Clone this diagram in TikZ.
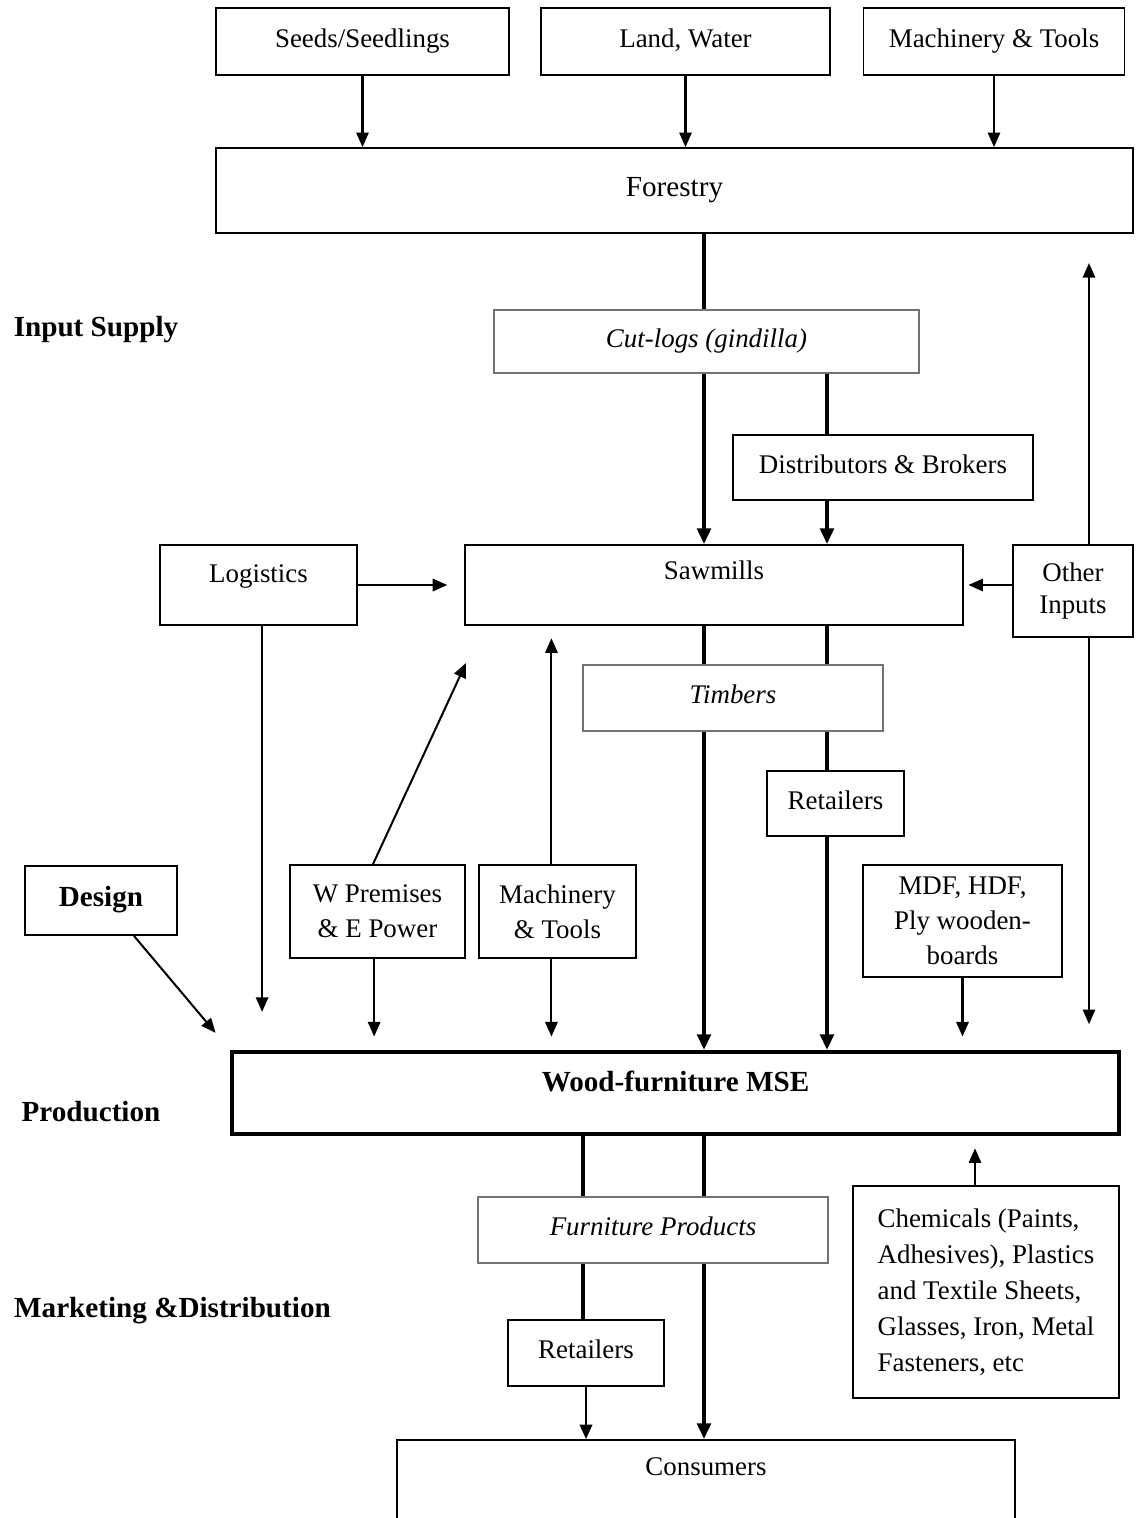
\documentclass[tikz,border=0pt]{standalone}
\usepackage{fontspec}
\setmainfont{Liberation Serif}
\usetikzlibrary{arrows.meta}

\begin{document}
\begin{tikzpicture}[x=0.446pt,y=-0.446pt,
  font=\fontsize{12pt}{15.5pt}\selectfont,
  box/.style={draw,line width=0.8pt,align=center,inner sep=2pt},
  single/.style={box,text height=8.5pt,text depth=3.5pt},
  greybox/.style={single,draw=black!55,line width=0.5pt,font=\fontsize{12pt}{15.5pt}\selectfont\itshape},
  sz/.style 2 args={minimum width=#1*0.446pt,minimum height=#2*0.446pt},
  head/.style={font=\fontsize{13pt}{15pt}\selectfont\bfseries},
  stage/.style={head,text height=9pt,text depth=2.5pt},
  arr/.style={line width=0.9pt,-{Triangle[length=6.5pt,width=5.5pt]}},
  trunkline/.style={line width=2.2pt},
  trunkarr/.style={line width=2.2pt,-{Triangle[length=7pt,width=6pt]}}]
  \useasboundingbox (0,0) rectangle (1143,1518);
  \coordinate (trunk) at (704,0);
  \coordinate (branch) at (827,0);
  \coordinate (rline) at (1089,0);
  \coordinate (lline) at (583,0);
  \coordinate (sawin) at (466,663);

  \node[stage] (inputs) at (96,329) {Input Supply};
  \node[stage] (production) at (91,1114) {Production};
  \node[stage] (marketing) at (172.5,1310) {Marketing \&Distribution};

  \node[single,sz={293}{67}] (seeds) at (362.5,41.5) {Seeds/Seedlings};
  \node[single,sz={289}{67}] (land) at (685.5,41.5) {Land, Water};
  \node[single,sz={261}{67}] (tools) at (994,41.5) {Machinery \& Tools};
  \node[single,sz={917}{85},font=\fontsize{13pt}{15pt}\selectfont] (forestry) at (674.5,190.5) {Forestry};
  \node[greybox,sz={425}{63}] (cutlogs) at (706.5,341.5) {Cut-logs (gindilla)};
  \node[single,sz={300}{65}] (dist) at (883,467.5) {Distributors \& Brokers};
  \node[single,sz={498}{80},text depth=13pt] (sawmills) at (714,585) {Sawmills};
  \node[single,sz={197}{80},text depth=11pt] (logistics) at (258.5,585) {Logistics};
  \node[box,sz={120}{92},font=\fontsize{12pt}{14.3pt}\selectfont] (other) at (1073,591) {Other\\Inputs};
  \node[greybox,sz={300}{66}] (timbers) at (733,698) {Timbers};
  \node[single,sz={137}{65}] (retail) at (835.5,803.5) {Retailers};
  \node[box,sz={175}{93}] (premises) at (377.5,911.5) {W Premises\\\& E Power};
  \node[box,sz={157}{93}] (tools2) at (557.5,911.5) {Machinery\\\& Tools};
  \node[single,sz={152}{69},head] (design) at (101,900.5) {Design};
  \node[box,sz={199}{112}] (boards) at (962.5,921) {MDF, HDF,\\Ply wooden-\\boards};
  \node[single,sz={887}{82},head,line width=1.8pt,text depth=9.5pt] (mse) at (675.5,1093) {Wood-furniture MSE};
  \node[greybox,sz={350}{66}] (products) at (653,1230) {Furniture Products};
  \node[box,sz={266}{212},align=left,font=\fontsize{12pt}{16pt}\selectfont] (chem) at (986,1292) {Chemicals (Paints,\\Adhesives), Plastics\\and Textile Sheets,\\Glasses, Iron, Metal\\Fasteners, etc};
  \node[single,sz={156}{66}] (retail2) at (586,1353) {Retailers};
  \node[single,sz={618}{120},text depth=30pt] (consumers) at (706,1500) {Consumers};

  \draw[arr] (seeds) -- (seeds |- forestry.north);
  \draw[arr] (land) -- (land |- forestry.north);
  \draw[arr] (tools) -- (tools |- forestry.north);
  \draw[trunkline] (forestry.south -| trunk) -- (cutlogs.north -| trunk);
  \draw[trunkarr] (cutlogs.south -| trunk) -- (sawmills.north -| trunk);
  \draw[trunkline] (cutlogs.south -| branch) -- (dist.north -| branch);
  \draw[trunkarr] (dist.south -| branch) -- (sawmills.north -| branch);
  \draw[arr,shorten >=7.5pt] (logistics) -- (sawmills);
  \draw[arr,shorten >=2pt] (other.west |- sawmills.east) -- (sawmills.east);
  \draw[arr,shorten >=13pt] (other.north -| rline) -- (forestry.south -| rline);
  \draw[arr,shorten >=11.5pt] (other.south -| rline) -- (mse.north -| rline);
  \draw[trunkline] (sawmills.south -| trunk) -- (timbers.north -| trunk);
  \draw[trunkline] (sawmills.south -| branch) -- (timbers.north -| branch);
  \draw[trunkarr] (timbers.south -| trunk) -- (mse.north -| trunk);
  \draw[trunkline] (timbers.south -| branch) -- (retail.north -| branch);
  \draw[trunkarr] (retail.south -| branch) -- (mse.north -| branch);
  \draw[arr,shorten >=17pt] ([xshift=1.6pt]logistics.south) -- ([xshift=1.6pt]logistics.south |- mse.north);
  \draw[arr] ([xshift=-2pt]premises.north) -- (sawin);
  \draw[arr,shorten >=5.5pt] ([xshift=-2.7pt]tools2.north) -- ([xshift=-2.7pt]tools2.north |- sawmills.south);
  \draw[arr,shorten >=6pt] ([xshift=-1.5pt]premises.south) -- ([xshift=-1.5pt]premises.south |- mse.north);
  \draw[arr,shorten >=6pt] ([xshift=-2.7pt]tools2.south) -- ([xshift=-2.7pt]tools2.south |- mse.north);
  \draw[arr,shorten >=10pt] (design.-47) -- (mse.north west);
  \draw[arr,shorten >=6pt] (boards) -- (boards |- mse.north);
  \draw[trunkline] (mse.south -| lline) -- (products.north -| lline);
  \draw[trunkline] (mse.south -| trunk) -- (products.north -| trunk);
  \draw[arr,shorten >=5.5pt] ([xshift=-4.9pt]chem.north) -- ([xshift=-4.9pt]chem.north |- mse.south);
  \draw[trunkline] (products.south -| lline) -- (retail2.north -| lline);
  \draw[trunkarr] (products.south -| trunk) -- (consumers.north -| trunk);
  \draw[arr,line width=1.2pt] (retail2) -- (retail2 |- consumers.north);
\end{tikzpicture}
\end{document}
